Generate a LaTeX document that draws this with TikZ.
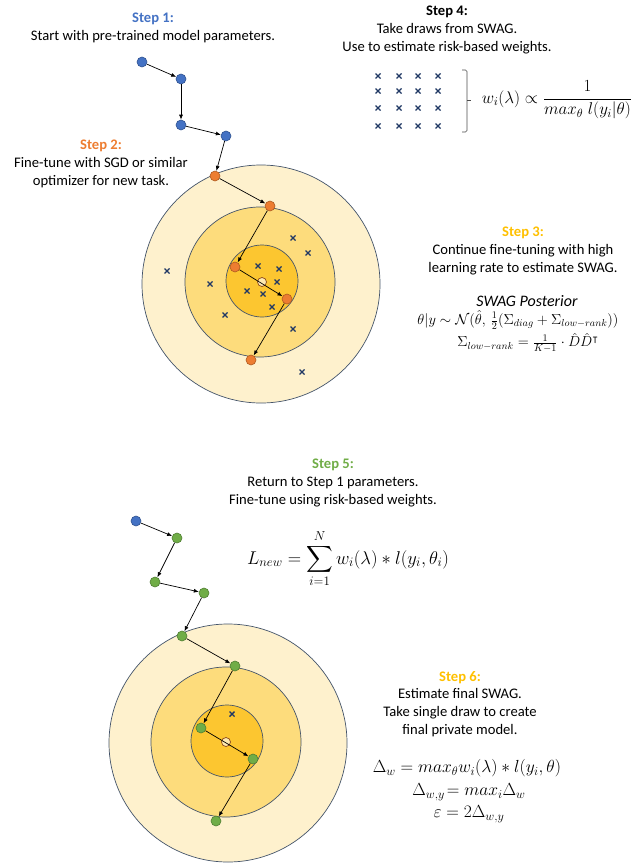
\RequirePackage{fix-cm}
\documentclass[tikz,border=0pt]{standalone}
\usepackage{amsmath,amssymb}
\usepackage{fontspec}
\setmainfont{Carlito}
\usetikzlibrary{arrows.meta}
\definecolor{cBlue}{HTML}{4472C4}
\definecolor{cBlueD}{HTML}{2F528F}
\definecolor{cOrange}{HTML}{ED7D31}
\definecolor{cOrangeD}{HTML}{AE5A21}
\definecolor{cGreen}{HTML}{70AD47}
\definecolor{cGreenD}{HTML}{507E32}
\definecolor{cGold}{HTML}{FFC000}
\definecolor{cRing}{HTML}{44546A}
\definecolor{cF1}{HTML}{FEF1CD}
\definecolor{cF2}{HTML}{FDDC7C}
\definecolor{cF3}{HTML}{FCC630}
\definecolor{cCross}{HTML}{203864}
\tikzset{
  dotnode/.style={circle, minimum size=10pt, inner sep=0pt, line width=0.6pt},
  bdot/.style={dotnode, fill=cBlue, draw=cBlueD},
  odot/.style={dotnode, fill=cOrange, draw=cOrangeD},
  gdot/.style={dotnode, fill=cGreen, draw=cGreenD},
  arr/.style={-{Latex[length=5pt,width=4pt]}, line width=0.7pt, black},
  ring/.style={circle, draw=cRing, line width=0.7pt, inner sep=0pt},
  ctr/.style={circle, draw=cOrangeD!80!black, fill=cF2!60!white, line width=0.7pt, minimum size=9pt, inner sep=0pt},
  txt/.style={align=center, font=\fontsize{14.6}{17.8}\selectfont, inner sep=0pt},
  eqn/.style={inner sep=0pt, font=\fontsize{#1}{#1}\selectfont},
  xm/.pic={\draw[cCross, line width=1.4pt] (-2.5,-2.5)--(2.5,2.5) (-2.5,2.5)--(2.5,-2.5);}
}
\begin{document}
\begin{tikzpicture}[x=1pt,y=-1pt]
\useasboundingbox (0,0) rectangle (641,864);

% ---------- Top target ----------
\node[ring, fill=cF1, minimum size=238pt] (tA) at (261,284) {};
\node[ring, fill=cF2, minimum size=150pt] (tB) at (260,282) {};
\node[ring, fill=cF3, minimum size=72pt] (tC) at (262,281) {};
\node[ctr] (tctr) at (262,282) {};
\foreach \p in {(293,238),(308,253),(167,271),(210,284),(258,266),(279,269),(277,282),(247,291),(263,294),(272,307),(225,315),(293,329),(302,372)}
  \pic at \p {xm};

% ---------- Step 1 / 2 path ----------
\node[bdot] (b1) at (142,62) {};
\node[bdot] (b2) at (181,79) {};
\node[bdot] (b3) at (181,125) {};
\node[bdot] (b4) at (226,136) {};
\node[odot] (o1) at (215,176) {};
\node[odot] (o2) at (270,206) {};
\node[odot] (o3) at (235,267) {};
\node[odot] (o4) at (287,299) {};
\node[odot] (o5) at (251,360) {};
\draw[arr] (b1) -- (b2);
\draw[arr] (b2) -- (b3);
\draw[arr] (b3) -- (b4);
\draw[arr] (b4) -- (o1);
\draw[arr] (o1) -- (o2);
\draw[arr] (o2) -- (o3);
\draw[arr] (o3) -- (o4);
\draw[arr] (o4) -- (o5);

% ---------- Texts top ----------
\node[txt] (s1) at (153,28) {\textcolor{cBlue}{\textbf{Step 1:}}\\Start with pre-trained model parameters.};
\node[txt] (s2) at (101,164) {\textcolor{cOrange}{\textbf{Step 2:}}\\Fine-tune with SGD or similar\\optimizer for new task.};
\node[txt] (s4) at (447,30) {\textbf{Step 4:}\\Take draws from SWAG.\\Use to estimate risk-based weights.};
\node[txt] (s3) at (523,251) {\textcolor{cGold}{\textbf{Step 3:}}\\Continue fine-tuning with high\\learning rate to estimate SWAG.};
\node[inner sep=0pt, font=\fontsize{16}{18}\selectfont\itshape] (swp) at (527,301) {SWAG Posterior};
\node[eqn=14.5] (eq3a) at (518,320) {$\theta|y \sim \mathcal{N}(\hat{\theta},\, \tfrac{1}{2}(\Sigma_{diag} + \Sigma_{low-rank}))$};
\node[eqn=14.5] (eq3b) at (528,343) {$\Sigma_{low-rank} = \tfrac{1}{K-1}\cdot \hat{D}\hat{D}^{\intercal}$};

% ---------- Step 4 grid ----------
\foreach \xx in {378,399,418,438}
  \foreach \yy in {76,91,108,126}
    \pic at (\xx,\yy) {xm};
\draw[black!70, line width=0.6pt, rounded corners=1.5pt] (462,70) -- (467,70) -- (467,132) -- (462,132);
\draw[black!70, line width=0.6pt] (467,100) -- (471,100);
\node[eqn=17] (eq4) at (557,100) {$w_i(\lambda) \propto \dfrac{1}{max_\theta\; l(y_i|\theta)}$};

% ---------- Bottom target ----------
\node[ring, fill=cF1, minimum size=238pt] (bA) at (228,743) {};
\node[ring, fill=cF2, minimum size=150pt] (bB) at (226,742) {};
\node[ring, fill=cF3, minimum size=72pt] (bC) at (227,741) {};
\node[ctr] (bctr) at (226,742) {};
\pic at (232,714) {xm};

\node[bdot] (c0) at (136,521) {};
\node[gdot] (g1) at (177,538) {};
\node[gdot] (g2) at (155,582) {};
\node[gdot] (g3) at (204,593) {};
\node[gdot] (g4) at (182,636) {};
\node[gdot] (g5) at (235,666) {};
\node[gdot] (g6) at (201,728) {};
\node[gdot] (g7) at (253,759) {};
\node[gdot] (g8) at (216,821) {};
\draw[arr] (c0) -- (g1);
\draw[arr] (g1) -- (g2);
\draw[arr] (g2) -- (g3);
\draw[arr] (g3) -- (g4);
\draw[arr] (g4) -- (g5);
\draw[arr] (g5) -- (g6);
\draw[arr] (g6) -- (g7);
\draw[arr] (g7) -- (g8);

% ---------- Texts bottom ----------
\node[txt] (s5) at (333,483) {\textcolor{cGreen}{\textbf{Step 5:}}\\Return to Step 1 parameters.\\Fine-tune using risk-based weights.};
\node[eqn=18.5] (eq5) at (348,559) {$\displaystyle L_{new} = \sum_{i=1}^{N} w_i(\lambda) * l(y_i,\theta_i)$};
\node[txt] (s6) at (460,704) {\textcolor{cGold}{\textbf{Step 6:}}\\Estimate final SWAG.\\Take single draw to create\\final private model.};
\node[eqn=17.5] (eq6a) at (467,768) {$\Delta_w = max_\theta w_i(\lambda) * l(y_i,\theta)$};
\node[eqn=17.5] (eq6b) at (469,792) {$\Delta_{w,y}\!= max_i\Delta_w$};
\node[eqn=17.5] (eq6c) at (469,814) {$\varepsilon = 2\Delta_{w,y}$};
\end{tikzpicture}
\end{document}
